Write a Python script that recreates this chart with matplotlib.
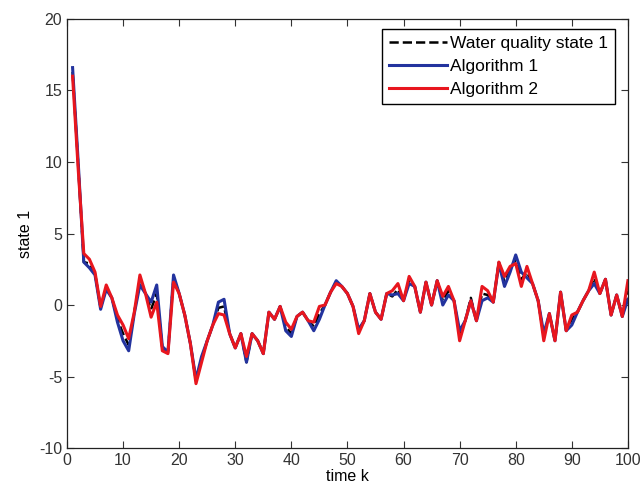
import matplotlib
matplotlib.use("Agg")
import matplotlib.pyplot as plt
import numpy as np

plt.rcParams['font.family'] = ['Liberation Sans', 'DejaVu Sans']
plt.rcParams['axes.unicode_minus'] = False

k = list(range(1, 101))

algo1 = [16.6, 10.0, 3.0, 2.6, 2.1, -0.3, 1.1, 0.5, -1.2, -2.5,
         -3.2, -0.6, 1.4, 0.8, 0.2, 1.4, -2.9, -3.3, 2.1, 0.8,
         -0.7, -2.7, -5.2, -3.6, -2.5, -1.4, 0.2, 0.4, -2.0, -3.0,
         -2.0, -4.0, -2.0, -2.5, -3.4, -0.5, -1.0, -0.1, -1.8, -2.2,
         -0.8, -0.5, -1.1, -1.8, -1.0, 0.0, 0.9, 1.7, 1.3, 0.8,
         -0.1, -1.7, -1.1, 0.8, -0.5, -1.0, 0.8, 0.7, 0.8, 0.3,
         1.5, 1.3, -0.5, 1.6, 0.0, 1.7, 0.0, 0.7, 0.3, -1.8,
         -1.1, 0.3, -1.1, 0.3, 0.5, 0.2, 2.9, 1.3, 2.3, 3.5,
         2.3, 1.9, 1.5, 0.3, -2.0, -0.6, -2.5, 0.9, -1.8, -1.4,
         -0.5, 0.3, 1.0, 1.5, 0.8, 1.8, -0.7, 0.7, -0.8, 0.4]

algo2 = [16.0, 9.5, 3.6, 3.2, 2.3, -0.1, 1.4, 0.5, -0.7, -1.4,
         -2.35, -0.5, 2.1, 0.8, -0.85, 0.2, -3.2, -3.4, 1.6, 0.8,
         -0.7, -2.7, -5.5, -4.0, -2.5, -1.4, -0.6, -0.7, -2.0, -3.0,
         -2.0, -3.6, -2.0, -2.5, -3.4, -0.5, -1.0, -0.1, -1.2, -1.7,
         -0.8, -0.5, -1.1, -1.2, -0.1, 0.0, 0.9, 1.5, 1.3, 0.8,
         -0.1, -2.0, -1.1, 0.8, -0.5, -1.0, 0.8, 1.0, 1.5, 0.3,
         2.0, 1.3, -0.5, 1.6, 0.0, 1.7, 0.6, 1.3, 0.3, -2.5,
         -1.1, 0.3, -1.1, 1.3, 1.0, 0.2, 3.0, 2.0, 2.7, 2.9,
         1.3, 2.7, 1.5, 0.3, -2.5, -0.6, -2.5, 0.9, -1.8, -0.7,
         -0.5, 0.3, 1.0, 2.3, 0.8, 1.8, -0.7, 0.7, -0.8, 1.7]

true_state = [16.3, 9.8, 3.0, 2.9, 2.2, -0.2, 1.2, 0.5, -1.0, -2.0,
              -2.8, -0.5, 1.8, 0.8, -0.3, 0.8, -3.0, -3.3, 1.9, 0.8,
              -0.7, -2.7, -5.3, -3.8, -2.5, -1.4, -0.2, -0.1, -2.0, -3.0,
              -2.0, -4.0, -2.0, -2.5, -3.4, -0.5, -1.0, -0.1, -1.5, -2.0,
              -0.8, -0.5, -1.1, -1.5, -0.6, 0.0, 0.9, 1.6, 1.3, 0.8,
              -0.1, -1.8, -1.1, 0.8, -0.5, -1.0, 0.8, 0.6, 1.1, 0.3,
              1.8, 1.3, -0.5, 1.6, 0.0, 1.7, 0.3, 1.0, 0.3, -2.1,
              -1.1, 0.5, -1.1, 0.8, 0.7, 0.2, 3.0, 1.6, 2.5, 3.2,
              1.8, 2.3, 1.5, 0.3, -2.2, -0.6, -2.5, 0.9, -1.8, -1.0,
              -0.5, 0.3, 1.0, 1.9, 0.8, 1.8, -0.7, 0.7, -0.8, 1.0]

xticks = list(range(0, 101, 10))
yticks = list(range(-10, 21, 5))

fig = plt.figure(figsize=(6.44, 4.92), dpi=100)
ax = fig.add_axes([0.104, 0.0894, 0.871, 0.872])

ax.plot(k, true_state, color='black', linestyle='--', linewidth=1.8, label='Water quality state 1')
ax.plot(k, algo1, color='#23339e', linewidth=2.2, label='Algorithm 1')
ax.plot(k, algo2, color='#e8161e', linewidth=2.2, label='Algorithm 2')

ax.set_xlim(0, 100)
ax.set_ylim(-10, 20)
ax.set_xticks(xticks)
ax.set_yticks(yticks)
ax.tick_params(direction='in', top=True, right=True, length=5, width=0.8,
               labelsize=11.5, colors='#333333')
for s in ax.spines.values():
    s.set_linewidth(0.9)
    s.set_color('#222222')

ax.set_xlabel('time k', fontsize=11.5, labelpad=1)
ax.set_ylabel('state 1', fontsize=11.5, labelpad=4)

leg = ax.legend(loc='upper right', bbox_to_anchor=(0.977, 0.977), fontsize=12.5,
                frameon=True, fancybox=False,
                edgecolor='black', framealpha=1, borderaxespad=0.0,
                handlelength=3.3, handletextpad=0.2, labelspacing=0.45,
                borderpad=0.4)
leg.get_frame().set_linewidth(1.0)

fig.savefig('out.png', dpi=100)
